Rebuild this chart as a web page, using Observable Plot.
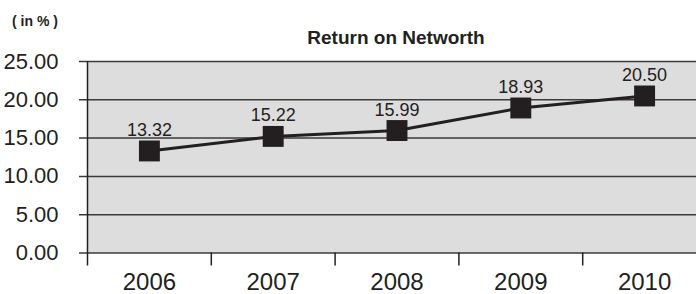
<!DOCTYPE html>
<html>
<head>
<meta charset="utf-8">
<script src="https://cdn.jsdelivr.net/npm/d3@7"></script>
<script src="https://cdn.jsdelivr.net/npm/@observablehq/plot@0.6"></script>
<style>
  html, body { margin: 0; padding: 0; background: #fff; overflow: hidden; }
  #wrap { position: relative; width: 696px; height: 294px; font-family: "Liberation Sans", Arial, sans-serif; color: #231f20; }
  #unit { position: absolute; left: 12px; top: 13px; font-size: 14px; font-weight: bold; }
  #title { position: absolute; left: 0; width: 792px; top: 27px; text-align: center; font-size: 19px; font-weight: bold; }
  #chart { position: absolute; left: 0; top: 0; }
</style>
</head>
<body>
<div id="wrap">
  <div id="chart"></div>
  <div id="unit">( in % )</div>
  <div id="title">Return on Networth</div>
</div>
<script>
const years = [2006, 2007, 2008, 2009, 2010];
const returnOnNetworth = [13.32, 15.22, 15.99, 18.93, 20.50];
const yTicks = [0, 5, 10, 15, 20, 25];
const xBoundaries = [2005.5, 2006.5, 2007.5, 2008.5, 2009.5, 2010.5];

const data = years.map((y, i) => ({year: y, value: returnOnNetworth[i]}));
const ink = "#231f20";

const chart = Plot.plot({
  width: 696,
  height: 294,
  marginTop: 61,
  marginBottom: 41.5,
  marginLeft: 87,
  marginRight: 0,
  style: {fontFamily: "'Liberation Sans', Arial, sans-serif", color: ink, background: "transparent", overflow: "visible"},
  x: {domain: [2005.5, 2010.5], range: [87, 706], label: null},
  y: {domain: [0, 25], label: null},
  marks: [
    Plot.frame({fill: "#dddddd", stroke: null}),
    Plot.ruleY(yTicks, {stroke: "#3a3a3a", strokeWidth: 1.5, insetLeft: -8}),
    Plot.ruleX([xBoundaries[0]], {stroke: ink, strokeWidth: 1.5, insetBottom: -13}),
    Plot.axisX({ticks: xBoundaries.slice(1), tickSize: 13, tickFormat: () => "", stroke: ink, strokeWidth: 1.5, label: null}),
    Plot.axisX({ticks: years, tickSize: 0, tickPadding: 20, tickFormat: d => String(d), fontSize: 24, fill: ink, label: null}),
    Plot.axisY({ticks: yTicks, tickSize: 0, tickPadding: 29, tickFormat: d => d.toFixed(2), fontSize: 22, fill: ink, label: null}),
    Plot.line(data, {x: "year", y: "value", stroke: ink, strokeWidth: 3}),
    Plot.dot(data, {x: "year", y: "value", symbol: "square", r: 11.8, fill: ink, stroke: null}),
    Plot.text(data, {x: "year", y: "value", text: d => d.value.toFixed(2), lineAnchor: "bottom", dy: -15, fontSize: 18, fill: ink})
  ]
});
document.getElementById("chart").append(chart);
</script>
</body>
</html>
